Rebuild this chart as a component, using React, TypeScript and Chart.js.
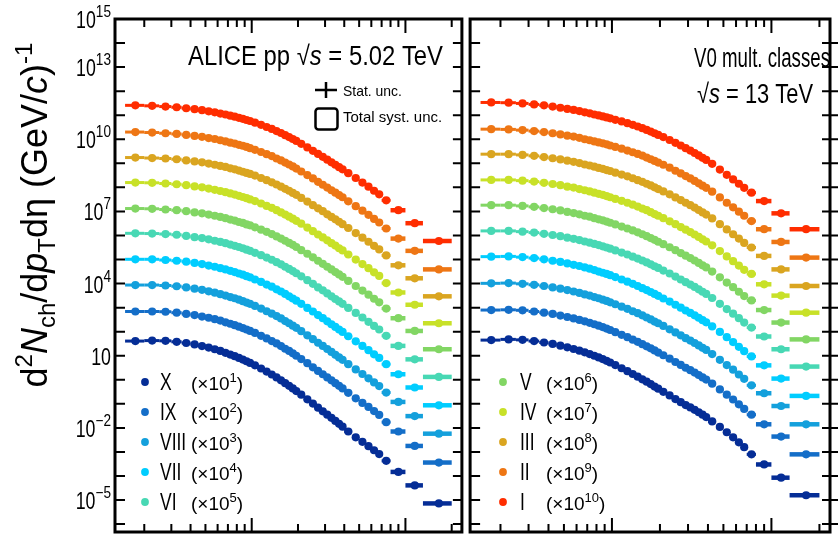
import React, { useEffect, useRef } from 'react';
import { Chart, registerables } from 'chart.js';
Chart.register(...registerables);

// pT bin edges (GeV/c)
const ptBinEdges = [0.15, 0.2, 0.25, 0.3, 0.35, 0.4, 0.45, 0.5, 0.55, 0.6, 0.65, 0.7, 0.75, 0.8, 0.85, 0.9, 0.95, 1.0, 1.1, 1.2, 1.3, 1.4, 1.5, 1.6, 1.7, 1.8, 1.9, 2.0, 2.2, 2.4, 2.6, 2.8, 3.0, 3.2, 3.4, 3.6, 3.8, 4.0, 4.5, 5.0, 5.5, 6.0, 6.5, 7.0, 8.0, 10.0, 13.0, 20.0];

const classNames = ['I', 'II', 'III', 'IV', 'V', 'VI', 'VII', 'VIII', 'IX', 'X'];
const scaleExponents = [10, 9, 8, 7, 6, 5, 4, 3, 2, 1];
const classColors = ['#ff2d00', '#ee7614', '#daa520', '#c8e128', '#82d664', '#48d8b4', '#00cdff', '#14a0dc', '#146ec8', '#052d96'];

// log10 of plotted (scaled) d2N/dpTdeta, pp 5.02 TeV
const log10_502_I = [11.41, 11.39, 11.36, 11.33, 11.29, 11.25, 11.21, 11.16, 11.12, 11.07, 11.03, 10.98, 10.94, 10.89, 10.85, 10.80, 10.76, 10.69, 10.60, 10.51, 10.43, 10.34, 10.26, 10.17, 10.09, 10.01, 9.93, 9.81, 9.66, 9.52, 9.39, 9.27, 9.15, 9.04, 8.94, 8.84, 8.75, 8.59, 8.39, 8.20, 8.03, 7.86, 7.71, 7.46, 7.05, 6.51, 5.77];
const log10_502_II = [10.30, 10.28, 10.25, 10.22, 10.18, 10.14, 10.10, 10.05, 10.01, 9.96, 9.91, 9.86, 9.82, 9.77, 9.73, 9.68, 9.63, 9.56, 9.47, 9.38, 9.30, 9.20, 9.12, 9.03, 8.95, 8.87, 8.78, 8.66, 8.51, 8.37, 8.23, 8.11, 7.99, 7.88, 7.78, 7.68, 7.59, 7.42, 7.22, 7.03, 6.86, 6.69, 6.54, 6.29, 5.87, 5.36, 4.59];
const log10_502_III = [9.24, 9.22, 9.20, 9.17, 9.12, 9.08, 9.04, 8.99, 8.94, 8.89, 8.85, 8.79, 8.75, 8.70, 8.65, 8.60, 8.56, 8.49, 8.39, 8.30, 8.21, 8.12, 8.03, 7.94, 7.86, 7.77, 7.69, 7.56, 7.41, 7.26, 7.13, 7.01, 6.88, 6.77, 6.67, 6.57, 6.47, 6.31, 6.10, 5.91, 5.74, 5.57, 5.42, 5.17, 4.76, 4.22, 3.47];
const log10_502_IV = [8.20, 8.19, 8.16, 8.13, 8.09, 8.04, 8.00, 7.95, 7.90, 7.85, 7.80, 7.75, 7.70, 7.65, 7.60, 7.55, 7.50, 7.43, 7.33, 7.23, 7.15, 7.05, 6.96, 6.87, 6.78, 6.70, 6.61, 6.49, 6.33, 6.18, 6.04, 5.92, 5.80, 5.68, 5.58, 5.47, 5.38, 5.21, 5.00, 4.81, 4.64, 4.47, 4.32, 4.02, 3.63, 3.12, 2.35];
const log10_502_V = [7.12, 7.11, 7.08, 7.05, 7.01, 6.96, 6.92, 6.87, 6.82, 6.77, 6.72, 6.66, 6.62, 6.56, 6.52, 6.46, 6.42, 6.34, 6.24, 6.15, 6.06, 5.96, 5.87, 5.78, 5.69, 5.61, 5.52, 5.39, 5.24, 5.09, 4.95, 4.82, 4.70, 4.59, 4.48, 4.38, 4.28, 4.11, 3.90, 3.71, 3.54, 3.37, 3.22, 2.96, 2.56, 2.03, 1.27];
const log10_502_VI = [6.09, 6.08, 6.06, 6.03, 5.98, 5.93, 5.89, 5.84, 5.78, 5.73, 5.68, 5.62, 5.57, 5.52, 5.47, 5.41, 5.36, 5.28, 5.18, 5.08, 4.99, 4.89, 4.80, 4.70, 4.61, 4.52, 4.43, 4.30, 4.14, 3.99, 3.84, 3.72, 3.59, 3.47, 3.36, 3.26, 3.16, 2.99, 2.78, 2.59, 2.41, 2.24, 2.09, 1.83, 1.41, 0.85, 0.12];
const log10_502_VII = [5.01, 5.01, 4.98, 4.95, 4.91, 4.86, 4.81, 4.75, 4.70, 4.64, 4.59, 4.53, 4.48, 4.42, 4.37, 4.31, 4.26, 4.17, 4.07, 3.96, 3.87, 3.76, 3.67, 3.57, 3.47, 3.38, 3.29, 3.16, 2.99, 2.84, 2.69, 2.56, 2.43, 2.31, 2.20, 2.09, 1.99, 1.81, 1.60, 1.41, 1.23, 1.06, 0.91, 0.65, 0.23, -0.32, -1.06];
const log10_502_VIII = [3.94, 3.94, 3.92, 3.89, 3.84, 3.79, 3.74, 3.68, 3.62, 3.56, 3.50, 3.44, 3.39, 3.33, 3.27, 3.21, 3.16, 3.07, 2.96, 2.85, 2.75, 2.65, 2.55, 2.44, 2.35, 2.25, 2.16, 2.02, 1.85, 1.69, 1.54, 1.41, 1.28, 1.16, 1.04, 0.93, 0.83, 0.65, 0.43, 0.24, 0.06, -0.11, -0.26, -0.53, -0.92, -1.51, -2.24];
const log10_502_IX = [2.84, 2.84, 2.83, 2.79, 2.74, 2.69, 2.63, 2.58, 2.52, 2.46, 2.39, 2.33, 2.27, 2.21, 2.15, 2.09, 2.03, 1.95, 1.83, 1.72, 1.61, 1.51, 1.40, 1.29, 1.20, 1.10, 1.00, 0.86, 0.69, 0.52, 0.37, 0.23, 0.10, -0.02, -0.14, -0.25, -0.36, -0.54, -0.77, -0.96, -1.13, -1.30, -1.46, -1.76, -2.15, -2.75, -3.44];
const log10_502_X = [1.61, 1.63, 1.62, 1.58, 1.53, 1.47, 1.40, 1.34, 1.27, 1.20, 1.12, 1.05, 0.98, 0.91, 0.84, 0.77, 0.70, 0.60, 0.47, 0.34, 0.22, 0.10, -0.02, -0.14, -0.25, -0.36, -0.47, -0.62, -0.81, -0.99, -1.16, -1.31, -1.45, -1.58, -1.71, -1.83, -1.95, -2.15, -2.39, -2.58, -2.76, -2.93, -3.09, -3.37, -3.83, -4.39, -5.14];

// log10 of plotted (scaled) d2N/dpTdeta, pp 13 TeV
const log10_13_I = [11.53, 11.52, 11.49, 11.45, 11.41, 11.36, 11.31, 11.26, 11.22, 11.17, 11.12, 11.08, 11.03, 10.99, 10.95, 10.91, 10.87, 10.81, 10.74, 10.67, 10.60, 10.53, 10.46, 10.39, 10.32, 10.25, 10.18, 10.09, 9.97, 9.85, 9.74, 9.63, 9.53, 9.43, 9.33, 9.23, 9.14, 8.98, 8.74, 8.52, 8.33, 8.15, 7.98, 7.78, 7.43, 6.92, 6.26];
const log10_13_II = [10.42, 10.41, 10.38, 10.34, 10.30, 10.25, 10.20, 10.15, 10.11, 10.06, 10.00, 9.96, 9.91, 9.87, 9.83, 9.79, 9.74, 9.68, 9.61, 9.53, 9.46, 9.39, 9.32, 9.24, 9.17, 9.10, 9.03, 8.94, 8.82, 8.69, 8.58, 8.47, 8.37, 8.27, 8.17, 8.07, 7.98, 7.82, 7.58, 7.36, 7.17, 6.99, 6.82, 6.60, 6.26, 5.73, 5.08];
const log10_13_III = [9.38, 9.38, 9.35, 9.31, 9.26, 9.21, 9.16, 9.11, 9.06, 9.01, 8.95, 8.91, 8.86, 8.81, 8.77, 8.72, 8.68, 8.61, 8.53, 8.46, 8.38, 8.30, 8.23, 8.15, 8.08, 8.00, 7.93, 7.83, 7.71, 7.58, 7.47, 7.36, 7.26, 7.16, 7.06, 6.96, 6.87, 6.71, 6.47, 6.25, 6.05, 5.87, 5.69, 5.50, 5.15, 4.59, 3.90];
const log10_13_IV = [8.31, 8.31, 8.28, 8.24, 8.19, 8.14, 8.09, 8.03, 7.99, 7.93, 7.88, 7.83, 7.78, 7.73, 7.69, 7.64, 7.59, 7.52, 7.44, 7.36, 7.28, 7.20, 7.12, 7.05, 6.97, 6.89, 6.82, 6.72, 6.59, 6.47, 6.35, 6.24, 6.14, 6.04, 5.94, 5.84, 5.75, 5.59, 5.35, 5.13, 4.93, 4.75, 4.57, 4.40, 3.97, 3.50, 2.79];
const log10_13_V = [7.26, 7.26, 7.23, 7.19, 7.14, 7.09, 7.04, 6.98, 6.93, 6.88, 6.82, 6.78, 6.72, 6.67, 6.63, 6.58, 6.53, 6.46, 6.37, 6.29, 6.21, 6.13, 6.05, 5.97, 5.89, 5.82, 5.74, 5.64, 5.51, 5.39, 5.27, 5.16, 5.06, 4.96, 4.86, 4.76, 4.67, 4.50, 4.26, 4.04, 3.85, 3.66, 3.48, 3.30, 2.90, 2.38, 1.68];
const log10_13_VI = [6.19, 6.19, 6.16, 6.12, 6.07, 6.02, 5.97, 5.91, 5.86, 5.81, 5.75, 5.70, 5.65, 5.60, 5.55, 5.50, 5.45, 5.38, 5.29, 5.21, 5.12, 5.04, 4.96, 4.88, 4.80, 4.72, 4.65, 4.54, 4.42, 4.29, 4.17, 4.06, 3.96, 3.86, 3.76, 3.66, 3.57, 3.40, 3.16, 2.94, 2.75, 2.56, 2.38, 2.17, 1.80, 1.27, 0.55];
const log10_13_VII = [5.12, 5.13, 5.10, 5.06, 5.01, 4.95, 4.90, 4.84, 4.78, 4.73, 4.67, 4.62, 4.56, 4.50, 4.45, 4.40, 4.35, 4.27, 4.17, 4.08, 3.99, 3.90, 3.81, 3.73, 3.65, 3.57, 3.49, 3.38, 3.25, 3.12, 3.00, 2.88, 2.78, 2.68, 2.58, 2.48, 2.39, 2.22, 1.99, 1.77, 1.57, 1.37, 1.19, 0.97, 0.60, 0.05, -0.67];
const log10_13_VIII = [4.01, 4.02, 3.99, 3.95, 3.90, 3.84, 3.79, 3.73, 3.67, 3.61, 3.55, 3.50, 3.44, 3.39, 3.33, 3.28, 3.22, 3.14, 3.04, 2.95, 2.85, 2.77, 2.68, 2.59, 2.51, 2.42, 2.35, 2.24, 2.10, 1.97, 1.85, 1.73, 1.63, 1.53, 1.43, 1.33, 1.24, 1.07, 0.83, 0.61, 0.42, 0.22, 0.04, -0.23, -0.56, -1.09, -1.85];
const log10_13_IX = [2.90, 2.91, 2.89, 2.84, 2.79, 2.74, 2.67, 2.61, 2.55, 2.49, 2.43, 2.37, 2.31, 2.25, 2.19, 2.13, 2.07, 1.98, 1.87, 1.77, 1.67, 1.58, 1.48, 1.39, 1.31, 1.22, 1.13, 1.02, 0.88, 0.74, 0.62, 0.50, 0.40, 0.30, 0.20, 0.10, 0.01, -0.16, -0.40, -0.62, -0.82, -1.02, -1.21, -1.45, -1.85, -2.36, -3.10];
const log10_13_X = [1.65, 1.68, 1.66, 1.61, 1.55, 1.49, 1.42, 1.35, 1.28, 1.21, 1.14, 1.07, 1.00, 0.93, 0.86, 0.79, 0.72, 0.61, 0.48, 0.36, 0.24, 0.13, 0.02, -0.08, -0.18, -0.28, -0.37, -0.50, -0.65, -0.80, -0.93, -1.05, -1.15, -1.25, -1.35, -1.45, -1.55, -1.73, -1.96, -2.18, -2.39, -2.60, -2.80, -3.10, -3.52, -4.07, -4.80];

const yTickLabelExps = [15, 13, 10, 7, 4, 1, -2, -5];
const xMajorTicks = [1, 10];
const xMinorTicks = [0.2, 0.3, 0.4, 0.5, 0.6, 0.7, 0.8, 0.9, 2, 3, 4, 5, 6, 7, 8, 9, 20];
const leftLegendClasses = [9, 8, 7, 6, 5];
const rightLegendClasses = [4, 3, 2, 1, 0];

const X_MIN = 0.129, X_MAX = 23.3, Y_MIN = 4.7e-7, Y_MAX = 1e15;
const FONT = '"Liberation Sans", Arial, Helvetica, sans-serif';

type Seg = { t: string; size: number; dy?: number; italic?: boolean; sx?: number };

function segFont(s: Seg) {
  return `${s.italic ? 'italic ' : ''}${s.size}px ${FONT}`;
}
function richWidth(ctx: CanvasRenderingContext2D, segs: Seg[], sx: number) {
  let w = 0;
  for (const s of segs) {
    ctx.font = segFont(s);
    w += ctx.measureText(s.t).width * (s.sx ?? sx);
  }
  return w;
}
function drawRich(ctx: CanvasRenderingContext2D, segs: Seg[], x: number, y: number, align: 'left' | 'right' | 'center', sx = 1, fitWidth?: number) {
  let scale = sx;
  if (fitWidth) scale = fitWidth / richWidth(ctx, segs, 1);
  const w = richWidth(ctx, segs, scale);
  let cx = align === 'right' ? x - w : align === 'center' ? x - w / 2 : x;
  ctx.save();
  ctx.fillStyle = '#000';
  ctx.textAlign = 'left';
  ctx.textBaseline = 'alphabetic';
  for (const s of segs) {
    const k = s.sx ?? scale;
    ctx.font = segFont(s);
    const mw = ctx.measureText(s.t).width;
    ctx.save();
    ctx.translate(cx, y + (s.dy ?? 0));
    ctx.scale(k, 1);
    ctx.fillText(s.t, 0, 0);
    ctx.restore();
    cx += mw * k;
  }
  ctx.restore();
}

function buildDatasets(logs: number[][]) {
  return logs.map((arr, i) => ({
    label: `${classNames[i]} (×10^${scaleExponents[i]})`,
    data: arr.map((v, j) => ({ x: (ptBinEdges[j] + ptBinEdges[j + 1]) / 2, y: Math.pow(10, v) })),
    backgroundColor: classColors[i],
    borderColor: classColors[i],
    pointRadius: 4.1,
    pointHoverRadius: 4.1,
    pointBorderWidth: 0,
    showLine: false,
  }));
}

const binBarsPlugin = {
  id: 'binBars',
  beforeDatasetsDraw(chart: any) {
    const { ctx, chartArea, scales } = chart;
    const xs = scales.x, ys = scales.y;
    ctx.save();
    ctx.beginPath();
    ctx.rect(chartArea.left, chartArea.top, chartArea.right - chartArea.left, chartArea.bottom - chartArea.top);
    ctx.clip();
    chart.data.datasets.forEach((ds: any) => {
      ctx.strokeStyle = ds.borderColor;
      ds.data.forEach((p: any, j: number) => {
        const lo = ptBinEdges[j], hi = ptBinEdges[j + 1];
        const py = ys.getPixelForValue(p.y);
        ctx.lineWidth = hi - lo >= 2 ? 4.5 : 3;
        ctx.beginPath();
        ctx.moveTo(xs.getPixelForValue(lo), py);
        ctx.lineTo(xs.getPixelForValue(hi), py);
        ctx.stroke();
      });
    });
    ctx.restore();
  },
};

function makeFramePlugin(panel: 'left' | 'right') {
  const ox = panel === 'left' ? 0 : 466;
  return {
    id: 'frame_' + panel,
    afterDraw(chart: any) {
      const { ctx, chartArea, scales } = chart;
      const xs = scales.x, ys = scales.y;
      const { left, right, top, bottom } = chartArea;
      ctx.save();
      ctx.strokeStyle = '#000';
      ctx.lineWidth = 2;
      // y ticks
      for (let e = -6; e <= 14; e++) {
        const py = ys.getPixelForValue(Math.pow(10, e));
        if (py < top + 1 || py > bottom - 1) continue;
        ctx.beginPath();
        ctx.moveTo(left, py); ctx.lineTo(left + 10, py);
        if (panel === 'left') { ctx.moveTo(right - 9, py); ctx.lineTo(right, py); }
        else { ctx.moveTo(right - 8, py); ctx.lineTo(right + 8, py); }
        ctx.stroke();
      }
      // x ticks
      const xt = (v: number, len: number) => {
        const px = xs.getPixelForValue(v);
        ctx.beginPath();
        ctx.moveTo(px, bottom); ctx.lineTo(px, bottom - len);
        ctx.moveTo(px, top); ctx.lineTo(px, top + len);
        ctx.stroke();
      };
      xMinorTicks.forEach((v) => xt(v, 8));
      xMajorTicks.forEach((v) => xt(v, 14));
      // frame
      ctx.lineWidth = 3;
      ctx.strokeRect(left, top, right - left, bottom - top);
      ctx.restore();

      if (panel === 'left') {
        // y tick labels
        yTickLabelExps.forEach((e) => {
          const py = ys.getPixelForValue(Math.pow(10, e));
          const segs: Seg[] = [{ t: '10', size: 24, sx: 0.74 }];
          if (e !== 1) segs.push({ t: e < 0 ? '−' + Math.abs(e) : String(e), size: 16, dy: -11, sx: 0.85 });
          drawRich(ctx, segs, 111, py + 9, 'right');
        });
        // y title (rotated)
        ctx.save();
        ctx.translate(47, 215);
        ctx.rotate(-Math.PI / 2);
        drawRich(ctx, [
          { t: 'd', size: 36 },
          { t: '2', size: 24, dy: -15 },
          { t: 'N', size: 36, italic: true },
          { t: 'ch', size: 24, dy: 8 },
          { t: '/d', size: 36 },
          { t: 'p', size: 36, italic: true },
          { t: 'T', size: 24, dy: 8 },
          { t: 'dη (GeV/', size: 36 },
          { t: 'c', size: 36, italic: true },
          { t: ')', size: 36 },
          { t: '-1', size: 24, dy: -15 },
        ], 0, 0, 'center', 1);
        ctx.restore();
        // header
        drawRich(ctx, [
          { t: 'ALICE pp ', size: 27 },
          { t: '√', size: 27 },
          { t: 's', size: 27, italic: true },
          { t: ' = 5.02 TeV', size: 27 },
        ], 188, 65, 'left', 1, 255);
        // stat / syst legend
        ctx.save();
        ctx.strokeStyle = '#000';
        ctx.lineWidth = 2.5;
        ctx.beginPath();
        ctx.moveTo(315, 90); ctx.lineTo(337, 90);
        ctx.moveTo(326, 82); ctx.lineTo(326, 98);
        ctx.stroke();
        ctx.beginPath();
        (ctx as any).roundRect(315.5, 108.5, 22, 21, 3);
        ctx.stroke();
        ctx.restore();
        drawRich(ctx, [{ t: 'Stat. unc.', size: 15 }], 343, 96, 'left', 0.93);
        drawRich(ctx, [{ t: 'Total syst. unc.', size: 15 }], 343, 122, 'left', 1);
      } else {
        drawRich(ctx, [{ t: 'V0 mult. classes', size: 27 }], 694 - ox, 67, 'left', 1, 136);
        drawRich(ctx, [
          { t: '√', size: 27 },
          { t: 's', size: 27, italic: true },
          { t: ' = 13 TeV', size: 27 },
        ], 697 - ox, 103, 'left', 1, 116);
      }

      // class legend
      const items = panel === 'left' ? leftLegendClasses : rightLegendClasses;
      const dotX = (panel === 'left' ? 145 : 503) - ox;
      const nameX = (panel === 'left' ? 160 : 520) - ox;
      const parX = (panel === 'left' ? 191 : 546) - ox;
      items.forEach((ci, k) => {
        const cy = 382 + k * 30;
        ctx.save();
        ctx.fillStyle = classColors[ci];
        ctx.beginPath();
        ctx.arc(dotX, cy, 3.9, 0, Math.PI * 2);
        ctx.fill();
        ctx.restore();
        drawRich(ctx, [{ t: classNames[ci], size: 23 }], nameX, cy + 8, 'left', 0.76);
        drawRich(ctx, [
          { t: '(×10', size: 19 },
          { t: String(scaleExponents[ci]), size: 13, dy: -8 },
          { t: ')', size: 19 },
        ], parX, cy + 8, 'left', 1);
      });
    },
  };
}

function makeConfig(panel: 'left' | 'right'): any {
  const logs = panel === 'left'
    ? [log10_502_I, log10_502_II, log10_502_III, log10_502_IV, log10_502_V, log10_502_VI, log10_502_VII, log10_502_VIII, log10_502_IX, log10_502_X]
    : [log10_13_I, log10_13_II, log10_13_III, log10_13_IV, log10_13_V, log10_13_VI, log10_13_VII, log10_13_VIII, log10_13_IX, log10_13_X];
  return {
    type: 'scatter',
    data: { datasets: buildDatasets(logs) },
    options: {
      animation: false,
      responsive: false,
      maintainAspectRatio: false,
      devicePixelRatio: 1,
      layout: {
        padding: panel === 'left'
          ? { left: 115, right: 1, top: 19, bottom: 5 }
          : { left: 2, right: 8, top: 19, bottom: 5 },
      },
      scales: {
        x: { type: 'logarithmic', min: X_MIN, max: X_MAX, display: false },
        y: { type: 'logarithmic', min: Y_MIN, max: Y_MAX, display: false },
      },
      plugins: { legend: { display: false }, tooltip: { enabled: false }, title: { display: false } },
      events: [],
    },
    plugins: [binBarsPlugin, makeFramePlugin(panel)],
  };
}

export default function App() {
  const leftRef = useRef<HTMLCanvasElement>(null);
  const rightRef = useRef<HTMLCanvasElement>(null);
  useEffect(() => {
    const c1 = new Chart(leftRef.current!, makeConfig('left'));
    const c2 = new Chart(rightRef.current!, makeConfig('right'));
    return () => { c1.destroy(); c2.destroy(); };
  }, []);
  return (
    <div style={{ position: 'fixed', left: 0, top: 0, width: 838, height: 537, background: '#fff', overflow: 'hidden' }}>
      <canvas ref={leftRef} width={466} height={537} style={{ position: 'absolute', left: 0, top: 0, width: 466, height: 537 }} />
      <canvas ref={rightRef} width={372} height={537} style={{ position: 'absolute', left: 466, top: 0, width: 372, height: 537 }} />
    </div>
  );
}
